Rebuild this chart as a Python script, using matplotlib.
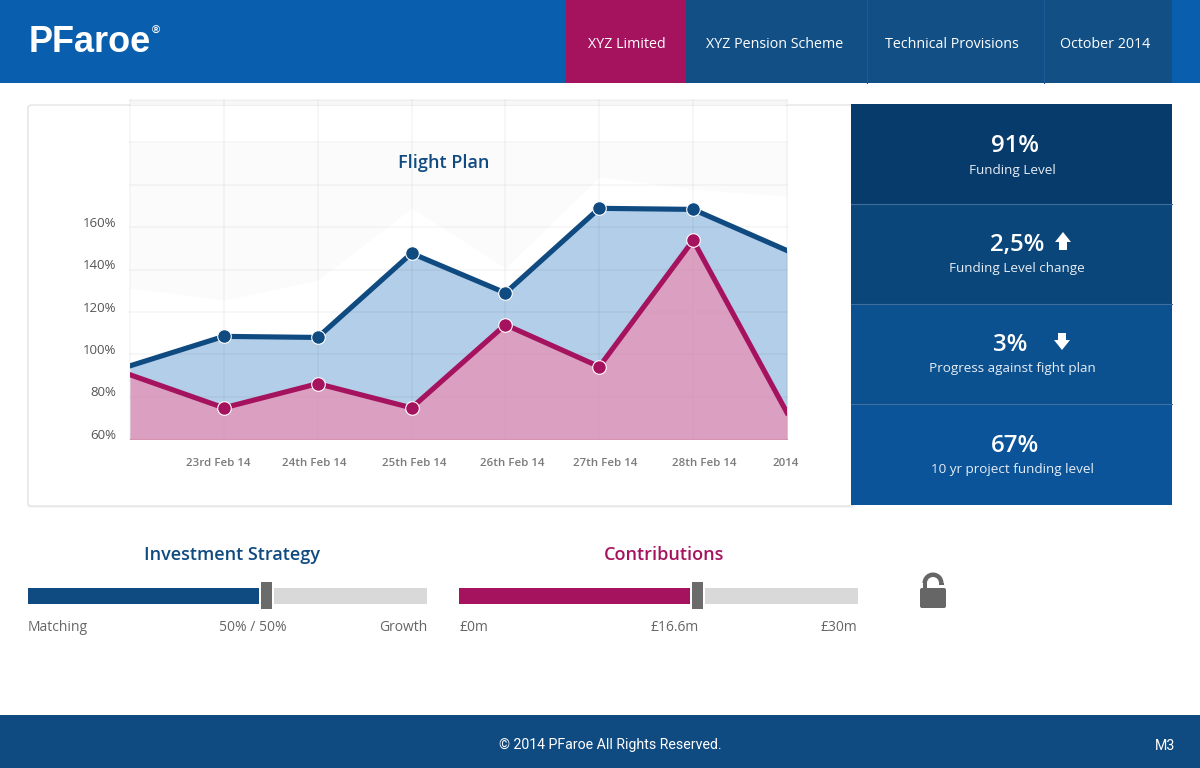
import numpy as np
import matplotlib
matplotlib.use("Agg")
import matplotlib.pyplot as plt
from matplotlib.patches import Rectangle, FancyBboxPatch, Wedge, Polygon
from matplotlib.transforms import ScaledTranslation

plt.rcParams['font.family'] = ['Open Sans', 'DejaVu Sans']

# ---- data ----
positions = [0, 1, 2, 3, 4, 5, 6, 7]
x_labels = ['', '23rd Feb 14', '24th Feb 14', '25th Feb 14', '26th Feb 14', '27th Feb 14', '28th Feb 14', '2014']
y_ticks = [60, 80, 100, 120, 140, 160, 180, 200, 220]
y_labels = ['60%', '80%', '100%', '120%', '140%', '160%', '', '', '']
blue_values = [94.6, 108.5, 108.0, 147.7, 129.0, 168.9, 168.4, 149.0]
pink_values = [90.4, 74.8, 86.2, 74.8, 114.0, 94.2, 153.8, 72.5]
faint_values = [131.4, 125.7, 135.0, 169.0, 140.8, 183.7, 178.0, 174.7]
kpi_values = ['91%', '2,5%', '3%', '67%']
kpi_names = ['Funding Level', 'Funding Level change', 'Progress against fight plan', '10 yr project funding level']
tabs = ['XYZ Limited', 'XYZ Pension Scheme', 'Technical Provisions', 'October 2014']

NAVY = '#0f4a80'
PINK = '#a5135f'

fig = plt.figure(figsize=(12, 7.68), dpi=100, facecolor='white')
bg = fig.add_axes([0, 0, 1, 1], zorder=1)
bg.set_xlim(0, 1200)
bg.set_ylim(768, 0)
bg.axis('off')


def rect(x0, y0, x1, y1, color, **kw):
    bg.add_patch(Rectangle((x0, y0), x1 - x0, y1 - y0, facecolor=color, edgecolor='none', **kw))


# header
rect(0, 0, 1200, 83, '#0a5eae')
rect(566, 0, 686, 83, PINK)
rect(686, 0, 1172, 83, '#114f85')
for sx in (866.5, 1043.5):
    bg.plot([sx, sx], [0, 83], color='#1a5a98', lw=0.8)
tab_centres = [626.5, 775, 952, 1105]
for cx, t in zip(tab_centres, tabs):
    bg.text(cx, 44.5, t, color='white', fontsize=10.3, ha='center', va='center')
bg.text(29, 43, 'PFaroe', color='white', fontsize=26, fontweight='bold', family='Liberation Sans',
        ha='left', va='center')
bg.text(156, 31, '®', color='white', fontsize=8, fontweight='bold', family='Liberation Sans',
        ha='center', va='center')

# card
bg.add_patch(FancyBboxPatch((30, 108), 822, 397, boxstyle='round,pad=3', facecolor='#f6f6f6', edgecolor='none'))
bg.add_patch(FancyBboxPatch((31, 108), 820, 395, boxstyle='round,pad=3',
                            facecolor='white', edgecolor='#dadada', lw=0.7))
rect(130, 100, 787, 105, '#f7f7f7')

# KPI panels
panel_cols = ['#073b6b', '#0a4679', '#0b518f', '#0b5499']
panel_tops = [104, 204.2, 304.2, 404.2]
panel_bots = [204.2, 304.2, 404.2, 505]
value_cx = [1014.5, 1017, 1010.5, 1014.5]
name_cx = [1012, 1016.5, 1012, 1012]
value_cy = [146.5, 244.5, 345, 446]
name_cy = [170.5, 268.5, 368.5, 469.5]
for i in range(4):
    rect(851, panel_tops[i], 1172, panel_bots[i], panel_cols[i])
    if i:
        bg.plot([851, 1172], [panel_tops[i]] * 2, color='#3f6f9f', lw=0.8)
    bg.text(value_cx[i], value_cy[i], kpi_values[i], color='white', fontsize=17.3,
            fontweight=600, ha='center', va='center')
    bg.text(name_cx[i], name_cy[i], kpi_names[i], color='#e6edf4', fontsize=9.7,
            ha='center', va='center')
# arrows
bg.add_patch(Polygon([(1063, 232), (1071, 242), (1067, 242), (1067, 250), (1059, 250), (1059, 242), (1055, 242)],
                     facecolor='white', edgecolor='none'))
bg.add_patch(Polygon([(1062, 350), (1070, 340), (1066, 340), (1066, 333), (1058, 333), (1058, 340), (1054, 340)],
                     facecolor='white', edgecolor='none'))

# sliders
bg.text(232, 555.5, 'Investment Strategy', color=NAVY, fontsize=13, fontweight=600, ha='center', va='center')
rect(28, 588, 259, 604, NAVY)
rect(274, 588, 427, 604, '#d9d9d9')
rect(261, 582, 272, 609, '#6b6b6b')
bg.text(664.5, 555.5, 'Contributions', color=PINK, fontsize=13, fontweight=600, ha='center', va='center')
rect(459, 588, 690, 604, PINK)
rect(705, 588, 858, 604, '#d9d9d9')
rect(692, 582, 703, 609, '#6b6b6b')
for x, s, ha in [(28, 'Matching', 'left'), (253, '50% / 50%', 'center'), (427.5, 'Growth', 'right'),
                 (459, '£0m', 'left'), (674.5, '£16.6m', 'center'), (857, '£30m', 'right')]:
    bg.text(x, 627.5, s, color='#666666', fontsize=10, ha=ha, va='center')

# lock
LOCK = '#666666'
bg.add_patch(FancyBboxPatch((922, 590), 22, 16, boxstyle='round,pad=2', facecolor=LOCK, edgecolor='none'))
bg.add_patch(Wedge((933, 583), 10.5, 180, 360, width=4.5, facecolor=LOCK, edgecolor='none'))
rect(922.5, 583, 927, 589, LOCK)
rect(939, 583, 943.5, 585, LOCK)

# footer
rect(0, 715, 1200, 768, NAVY)
bg.text(610, 745.5, '© 2014 PFaroe All Rights Reserved.', color='white', fontsize=10.2,
        family='Roboto', ha='center', va='center')
bg.text(1165, 746, 'M3', color='white', fontsize=10.2, family='Roboto', ha='center', va='center')

# ---- chart ----
ax = fig.add_axes([130 / 1200, 1 - 439.2 / 768, 657 / 1200, 339.2 / 768], zorder=2)
ax.patch.set_alpha(0)
ax.set_xlim(0, 7)
ax.set_ylim(60, 220)
for k, s in ax.spines.items():
    s.set_visible(False)
ax.spines['bottom'].set_visible(True)
ax.spines['bottom'].set_color('#cf9ab8')
ax.spines['bottom'].set_linewidth(0.7)

ax.fill_between(positions, faint_values, 200, color='#fbfbfb', lw=0, zorder=1)
ax.fill_between(positions, blue_values, 60, color='#1a6cbd', alpha=0.33, lw=0, zorder=2)
ax.fill_between(positions, pink_values, 60, color='#ed8db0', alpha=0.7, lw=0, zorder=3)

ax.set_xticks(positions)
ax.set_xticklabels(x_labels, fontsize=8.25, color='#7a7a7a', fontweight=600)
ax.set_yticks(y_ticks)
ax.set_yticklabels(y_labels, fontsize=9.5, color='#555555')
ax.tick_params(axis='both', length=0)
ax.tick_params(axis='x', pad=13.4)
ax.tick_params(axis='y', pad=10)
ax.grid(True, color='black', alpha=0.045, lw=1.1, zorder=4)
ax.set_axisbelow(False)
for gl in ax.get_xgridlines() + ax.get_ygridlines():
    gl.set_zorder(4)
    gl.set_clip_on(False)

label_dx = [0, -5.5, -3, 3, 6.5, 6, 11, -1]
for lab, dx in zip(ax.get_xticklabels(), label_dx):
    lab.set_transform(lab.get_transform() + ScaledTranslation(dx / 100, 0, fig.dpi_scale_trans))
for lab in ax.get_yticklabels():
    lab.set_transform(lab.get_transform() + ScaledTranslation(0, 5.5 / 100, fig.dpi_scale_trans))

ax.plot(positions, blue_values, color=NAVY, lw=3.7, marker='o', ms=9.8, mfc=NAVY, mec='white', mew=0.8,
        markevery=[1, 2, 3, 4, 5, 6], zorder=6, solid_joinstyle='miter')
ax.plot(positions, pink_values, color=PINK, lw=3.7, marker='o', ms=9.8, mfc=PINK, mec='white', mew=0.8,
        markevery=[1, 2, 3, 4, 5, 6], zorder=7, solid_joinstyle='miter')

ax.text(443.5, 163.5, 'Flight Plan', transform=bg.transData, color=NAVY, fontsize=13, fontweight=600,
        ha='center', va='center', zorder=8)

fig.savefig('out.png', dpi=100)
